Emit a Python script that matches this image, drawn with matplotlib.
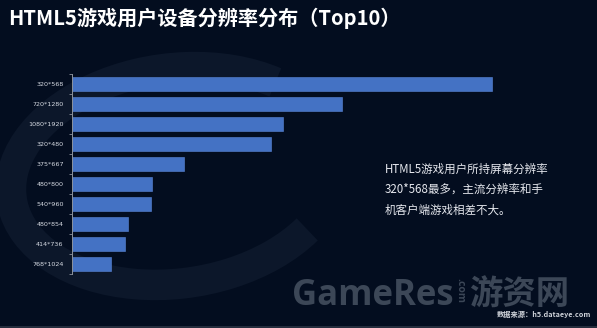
import matplotlib
matplotlib.use("Agg")
import matplotlib.pyplot as plt
from matplotlib.patches import Arc
from matplotlib.lines import Line2D

plt.rcParams['font.family'] = ['Noto Sans CJK SC', 'DejaVu Sans']

# Top-10 screen resolutions of HTML5 game users
resolutions = ["320*568", "720*1280", "1080*1920", "320*480", "375*667",
               "480*800", "540*960", "480*854", "414*736", "768*1024"]
shares = [42.0, 27.0, 21.1, 19.9, 11.2, 8.0, 7.9, 5.6, 5.3, 3.9]

title = "HTML5游戏用户设备分辨率分布（Top10）"
note_lines = ["HTML5游戏用户所持屏幕分辨率",
              "320*568最多，主流分辨率和手",
              "机客户端游戏相差不大。"]
source = "数据来源：h5.dataeye.com"

BG = "#030d1f"
BAR = "#4472c4"
W, H = 597, 328

fig = plt.figure(figsize=(W / 100, H / 100), dpi=100, facecolor=BG)

# decorative background swoosh
deco = fig.add_axes([0, 0, 1, 1], zorder=0)
deco.set_xlim(0, W)
deco.set_ylim(H, 0)
deco.axis("off")
deco.add_patch(Arc((175, 176), 330, 215, angle=-8, theta1=30, theta2=325,
                   color="#0c172a", lw=22))
deco.add_artist(Line2D([0, W], [326.5, 326.5], color="#2c3444", lw=1.2))

# bar chart
left, right = 72, 572
top, bottom = 74, 274
ax = fig.add_axes([left / W, 1 - bottom / H, (right - left) / W, (bottom - top) / H],
                  zorder=2)
ax.set_facecolor("none")
ypos = list(range(len(resolutions)))
ax.barh(ypos, shares, height=0.7, color=BAR, edgecolor="#5a86d6", linewidth=0.4)
ax.set_xlim(0, 50)
ax.set_ylim(len(resolutions) - 0.5, -0.5)
ax.set_yticks(ypos)
ax.set_yticklabels(resolutions, fontsize=4.6, color="#d6dae2",
                   family=['DejaVu Sans'])
ax.set_yticks([i - 0.5 for i in range(len(resolutions) + 1)], minor=True)
ax.tick_params(axis="y", which="major", length=0, pad=6)
ax.tick_params(axis="y", which="minor", length=2.2, width=0.6, color="#8c929c")
ax.set_xticks([])
for s in ["top", "right", "bottom"]:
    ax.spines[s].set_visible(False)
ax.spines["left"].set_color("#8c929c")
ax.spines["left"].set_linewidth(0.7)

# title
fig.text(8 / W, 1 - 18 / H, title, fontsize=14.5, fontweight="bold",
         color="white", ha="left", va="center")

# commentary
for i, line in enumerate(note_lines):
    fig.text(385 / W, 1 - (169 + 20.5 * i) / H, line, fontsize=8.3,
             color="#e6e8ee", ha="left", va="center")

# watermark
wm = "#3c4757"
fig.text(292 / W, 1 - 296 / H, "GameRes", fontsize=25, fontweight="bold",
         color=wm, ha="left", va="center", family=["Open Sans", "DejaVu Sans"])
fig.text(460 / W, 1 - 290 / H, ".com", fontsize=7.5, fontweight="bold",
         color=wm, ha="center", va="center", rotation=-90,
         family=["Open Sans", "DejaVu Sans"])
fig.text(519 / W, 1 - 295 / H, "游资网", fontsize=24, fontweight="bold",
         color=wm, ha="center", va="center")

# source
fig.text(591 / W, 1 - 314 / H, source, fontsize=5.2, fontweight="bold",
         color="#cfd3da", ha="right", va="center")

fig.savefig("out.png", dpi=100, facecolor=BG)
